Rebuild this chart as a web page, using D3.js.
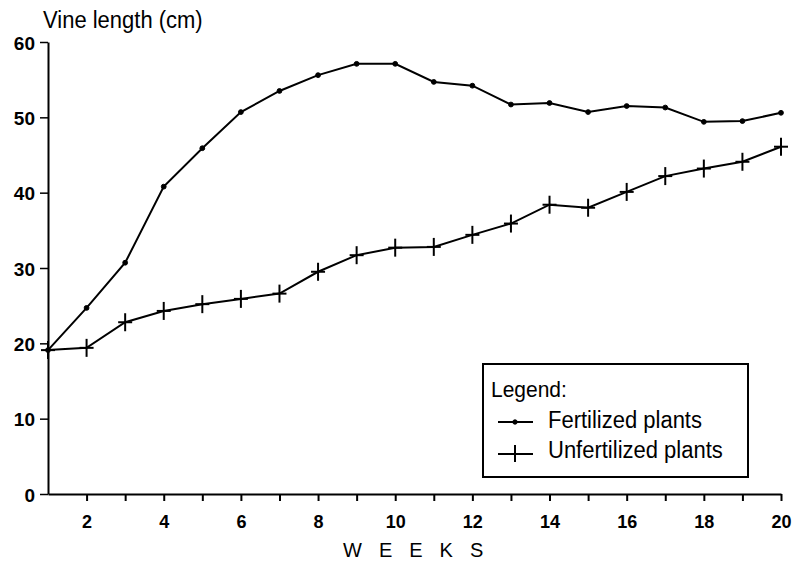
<!DOCTYPE html>
<html>
<head>
<meta charset="utf-8">
<script src="https://cdn.jsdelivr.net/npm/d3@7"></script>
<style>
  html, body { margin: 0; padding: 0; background: #fff; }
  svg { display: block; }
  text { font-family: "Liberation Sans", Arial, Helvetica, sans-serif; fill: #000; }
</style>
</head>
<body>
<svg id="chart" width="799" height="562"></svg>
<script>
// ---- data ----
const weeks = [1, 2, 3, 4, 5, 6, 7, 8, 9, 10, 11, 12, 13, 14, 15, 16, 17, 18, 19, 20];
const fertilized = [19.1, 24.7, 30.7, 40.8, 45.9, 50.7, 53.5, 55.6, 57.1, 57.1, 54.7, 54.2, 51.7, 51.9, 50.7, 51.5, 51.3, 49.4, 49.5, 50.6];
const unfertilized = [19.1, 19.4, 22.8, 24.3, 25.2, 25.9, 26.6, 29.5, 31.7, 32.7, 32.8, 34.4, 35.9, 38.4, 38.0, 40.1, 42.2, 43.2, 44.1, 46.1];
const yTicks = [0, 10, 20, 30, 40, 50, 60];
const xTicks = [2, 3, 4, 5, 6, 7, 8, 9, 10, 11, 12, 13, 14, 15, 16, 17, 18, 19, 20];
const seriesNames = ["Fertilized plants", "Unfertilized plants"];
const yTitle = "Vine length (cm)";
const xTitle = "WEEKS";
const legendTitle = "Legend:";

// ---- layout ----
const svg = d3.select("#chart");
const mLeft = 48, mRight = 781, mTop = 42, mBottom = 494;

const x = d3.scaleLinear().domain([1, 20]).range([mLeft, mRight]);
const y = d3.scaleLinear().domain([0, 60]).range([mBottom, mTop]);

// helper: text stretched vertically (tall, narrow scan typeface)
function tallText(parent, tx, ty, size, str, sy) {
  return parent.append("text")
    .attr("transform", `translate(${tx},${ty}) scale(1,${sy})`)
    .attr("font-size", size).text(str);
}

// y axis
const yAxis = svg.append("g").attr("transform", `translate(${mLeft},0)`)
  .call(d3.axisLeft(y).tickValues(yTicks).tickSize(8).tickSizeOuter(0).tickPadding(6));
yAxis.select(".domain").attr("stroke", "#000").attr("stroke-width", 2);
yAxis.selectAll(".tick line").attr("stroke", "#000").attr("stroke-width", 1.5);
yAxis.selectAll(".tick text")
  .attr("font-size", 19).attr("font-weight", "bold")
  .attr("font-family", "Liberation Sans, Arial, sans-serif")
  .attr("x", -13).attr("dy", "0.38em");

// x axis
const xAxis = svg.append("g").attr("transform", `translate(0,${mBottom})`)
  .call(d3.axisBottom(x).tickValues(xTicks).tickSize(7).tickSizeOuter(0)
    .tickFormat(d => d % 2 === 0 ? d : ""));
xAxis.select(".domain").attr("stroke", "#000").attr("stroke-width", 2);
xAxis.selectAll(".tick line").attr("stroke", "#000").attr("stroke-width", 2);
xAxis.selectAll(".tick text")
  .attr("font-size", 18).attr("font-weight", "bold")
  .attr("font-family", "Liberation Sans, Arial, sans-serif")
  .attr("y", 34).attr("dy", 0);

// titles
tallText(svg, 43, 28, 22, yTitle, 1.12);

svg.append("text").attr("x", 343).attr("y", 557)
  .attr("font-size", 20).attr("letter-spacing", 17).text(xTitle);

// lines
const line = d3.line().x((d, i) => x(weeks[i])).y(d => y(d));

svg.append("path").datum(fertilized)
  .attr("d", line).attr("fill", "none").attr("stroke", "#000").attr("stroke-width", 2);
svg.append("path").datum(unfertilized)
  .attr("d", line).attr("fill", "none").attr("stroke", "#000").attr("stroke-width", 2);

// fertilized markers: small dots
svg.append("g").selectAll("circle").data(fertilized).join("circle")
  .attr("cx", (d, i) => x(weeks[i])).attr("cy", d => y(d))
  .attr("r", 2.4).attr("fill", "#000").attr("stroke", "#000").attr("stroke-width", 1);

// unfertilized markers: crosses
const cross = svg.append("g").selectAll("g").data(unfertilized).join("g")
  .attr("transform", (d, i) => `translate(${x(weeks[i])},${y(d)})`);
cross.append("line").attr("x1", -7).attr("x2", 7).attr("y1", 0).attr("y2", 0)
  .attr("stroke", "#000").attr("stroke-width", 2);
cross.append("line").attr("x1", 0).attr("x2", 0).attr("y1", -9).attr("y2", 9)
  .attr("stroke", "#000").attr("stroke-width", 2);

// legend
const lg = svg.append("g");
lg.append("rect").attr("x", 483).attr("y", 364).attr("width", 265).attr("height", 113)
  .attr("fill", "#fff").attr("stroke", "#000").attr("stroke-width", 2);
tallText(lg, 491, 397, 21, legendTitle, 1.08);

const legendRows = [
  { name: seriesNames[0], y: 422, base: 428, marker: "dot" },
  { name: seriesNames[1], y: 454, base: 458, marker: "cross" }
];
legendRows.forEach(r => {
  lg.append("line").attr("x1", 498).attr("x2", 533).attr("y1", r.y).attr("y2", r.y)
    .attr("stroke", "#000").attr("stroke-width", 2);
  if (r.marker === "dot") {
    lg.append("circle").attr("cx", 515).attr("cy", r.y).attr("r", 2.2)
      .attr("fill", "#000").attr("stroke", "#000").attr("stroke-width", 1);
  } else {
    lg.append("line").attr("x1", 515).attr("x2", 515).attr("y1", r.y - 9).attr("y2", r.y + 8)
      .attr("stroke", "#000").attr("stroke-width", 2);
  }
  tallText(lg, 548, r.base, 22, r.name, 1.1);
});
</script>
</body>
</html>
